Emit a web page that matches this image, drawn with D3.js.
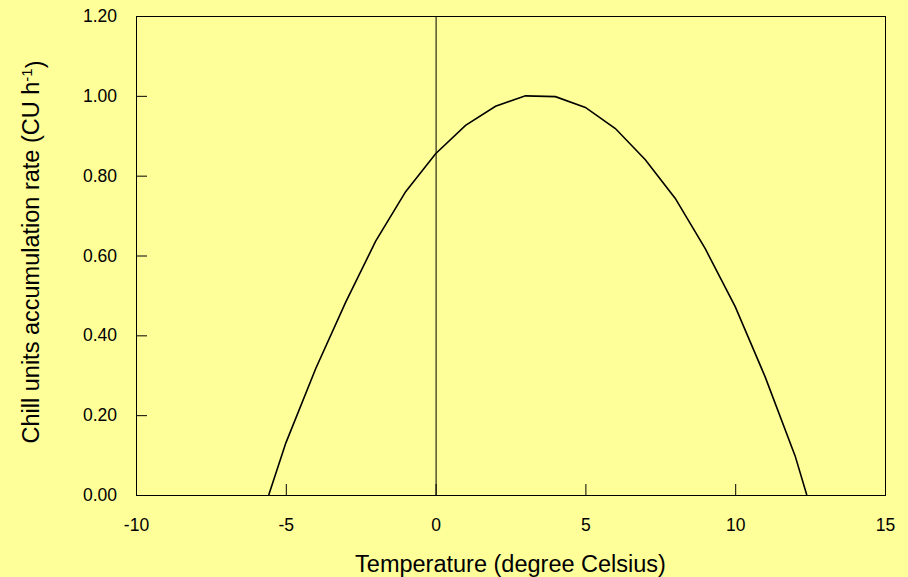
<!DOCTYPE html>
<html>
<head>
<meta charset="utf-8">
<script src="https://cdn.jsdelivr.net/npm/d3@7/dist/d3.min.js"></script>
<style>
    body { margin: 0; background: #ffff99; }
    svg text { font-family: Arial, "Liberation Sans", sans-serif; fill: #000; }
</style>
</head>
<body>
<div id="chart"></div>
<script>
// chill unit curve
var temperature = [-5.57, -5, -4, -3, -2, -1, 0, 1, 2, 3, 4, 5, 6, 7, 8, 9, 10, 11, 12, 12.39];
var chill_rate = [0, 0.13, 0.317, 0.483, 0.636, 0.76, 0.855, 0.926, 0.974, 1.0, 0.998, 0.971, 0.918, 0.84, 0.743, 0.617, 0.472, 0.296, 0.098, 0];

var x_ticks = [-10, -5, 0, 5, 10, 15];
var y_ticks = [0, 0.2, 0.4, 0.6, 0.8, 1.0, 1.2];

var svg_size = {
    'width': 908,
    'height': 577
};

var plot = {
    'left': 136,
    'right': 885,
    'top': 16,
    'bottom': 495
};

var svg = d3.select('#chart')
    .append('svg')
    .attr('width', svg_size.width)
    .attr('height', svg_size.height);

svg.append('rect')
    .attr('width', svg_size.width)
    .attr('height', svg_size.height)
    .style('fill', '#ffff99');

var x_scale = d3.scaleLinear()
    .domain([-10, 15])
    .range([plot.left, plot.right]);

var y_scale = d3.scaleLinear()
    .domain([0, 1.2])
    .range([plot.bottom, plot.top]);

// x axis, ticks pointing inward; plain hyphen for negatives
var x_axis = d3.axisBottom(x_scale)
    .tickValues(x_ticks)
    .tickFormat(function(d){ return String(d); })
    .tickSizeInner(-11)
    .tickSizeOuter(0)
    .tickPadding(24);

var x_axis_group = svg.append('g')
    .attr('transform', 'translate(0,' + plot.bottom + ')')
    .call(x_axis);

// y axis
var y_axis = d3.axisLeft(y_scale)
    .tickValues(y_ticks)
    .tickFormat(function(d){ return d.toFixed(2); })
    .tickSizeInner(-11)
    .tickSizeOuter(0)
    .tickPadding(19);

var y_axis_group = svg.append('g')
    .attr('transform', 'translate(' + plot.left + ',0)')
    .call(y_axis);

[x_axis_group, y_axis_group].forEach(function(g){
    g.select('.domain').remove();
    g.selectAll('.tick line').style('stroke', '#000');
    g.selectAll('.tick text')
        .style('font-size', '17.5px')
        .style('font-family', 'Arial, "Liberation Sans", sans-serif');
});

// frame
svg.append('rect')
    .attr('x', plot.left + 0.5)
    .attr('y', plot.top + 0.5)
    .attr('width', plot.right - plot.left)
    .attr('height', plot.bottom - plot.top)
    .style('fill', 'none')
    .style('stroke', '#000')
    .style('stroke-width', 1);

// zero line
svg.append('line')
    .attr('x1', x_scale(0) + 0.5)
    .attr('x2', x_scale(0) + 0.5)
    .attr('y1', plot.top)
    .attr('y2', plot.bottom)
    .style('stroke', '#000')
    .style('stroke-width', 1);

// curve
var line = d3.line()
    .x(function(d){ return x_scale(d[0]); })
    .y(function(d){ return y_scale(d[1]); });

svg.append('path')
    .datum(d3.zip(temperature, chill_rate))
    .attr('d', line)
    .style('fill', 'none')
    .style('stroke', '#000')
    .style('stroke-width', 1.6);

// axis titles
svg.append('text')
    .attr('x', (plot.left + plot.right) / 2)
    .attr('y', 572)
    .attr('text-anchor', 'middle')
    .style('font-size', '23.5px')
    .text('Temperature (degree Celsius)');

var y_title = svg.append('text')
    .attr('transform', 'translate(39,' + 252 + ') rotate(-90)')
    .attr('text-anchor', 'middle')
    .style('font-size', '23.5px');

y_title.append('tspan').text('Chill units accumulation rate (CU h');
y_title.append('tspan')
    .attr('dy', '-0.45em')
    .style('font-size', '15px')
    .text('-1');
y_title.append('tspan')
    .attr('dy', '0.45em')
    .text(')');
</script>
</body>
</html>
